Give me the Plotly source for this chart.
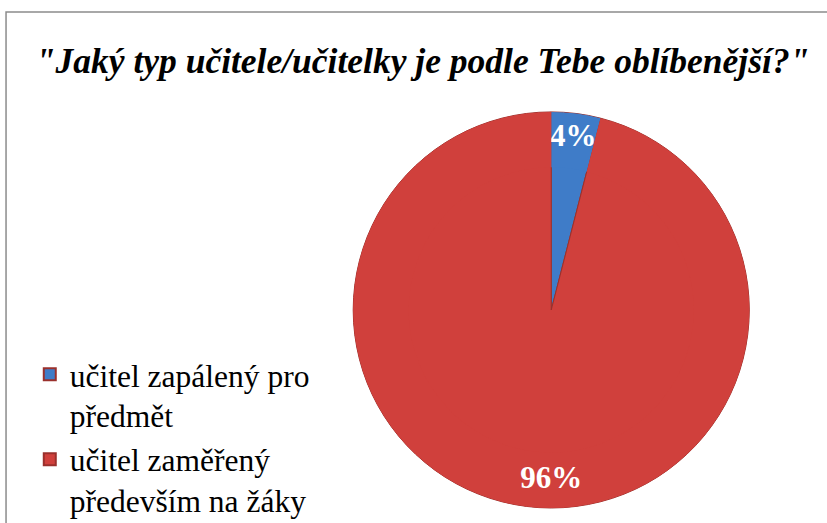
import plotly.graph_objects as go

labels = ["učitel zapálený pro<br>předmět", "učitel zaměřený<br>především na žáky"]
values = [4, 96]
colors = ["#3F7CC8", "#D0403C"]
title_text = "\"Jaký typ učitele/učitelky je podle Tebe oblíbenější?\""

serif = "Liberation Serif, Times New Roman, serif"
pie_domain = dict(x=[0.4268, 0.9063], y=[0.0287, 0.786])

fig = go.Figure()
# full pie (fills the centre)
fig.add_trace(go.Pie(
    labels=labels, values=values, sort=False, direction="clockwise", rotation=0,
    marker=dict(colors=colors, line=dict(color="#9A302C", width=1)),
    textinfo="none", showlegend=True, hoverinfo="label+percent",
    domain=pie_domain,
))
# ring on top carrying the percentage labels near the rim
fig.add_trace(go.Pie(
    labels=labels, values=values, sort=False, direction="clockwise", rotation=0,
    hole=0.72,
    marker=dict(colors=colors, line=dict(color="rgba(0,0,0,0)", width=0)),
    texttemplate="%{percent:.0%}",
    textposition="inside",
    insidetextorientation="horizontal",
    textfont=dict(family=serif, size=31, color="white", weight="bold"),
    showlegend=False, hoverinfo="label+percent",
    domain=pie_domain,
))

fig.update_layout(
    width=827, height=523,
    margin=dict(l=0, r=0, t=0, b=0, autoexpand=False),
    paper_bgcolor="white",
    plot_bgcolor="white",
    uniformtext=dict(minsize=31, mode="show"),
    title=dict(
        text=title_text,
        font=dict(family=serif, size=35.5, color="black", weight="bold", style="italic"),
        x=0.511, xanchor="center", y=0.885, yanchor="middle",
    ),
    legend=dict(
        x=0.036, y=0.336, xanchor="left", yanchor="top",
        font=dict(family=serif, size=31.5, color="black"),
        valign="top",
        itemsizing="constant",
        bgcolor="rgba(0,0,0,0)",
    ),
    shapes=[dict(type="rect", xref="paper", yref="paper",
                 x0=0.0073, x1=1.05, y0=-0.05, y1=0.977,
                 line=dict(color="#8C8C8C", width=1.5), fillcolor="rgba(0,0,0,0)")],
)

fig.write_html("out.html", config={"displayModeBar": False},
               post_script="document.body.style.margin='0px';")
